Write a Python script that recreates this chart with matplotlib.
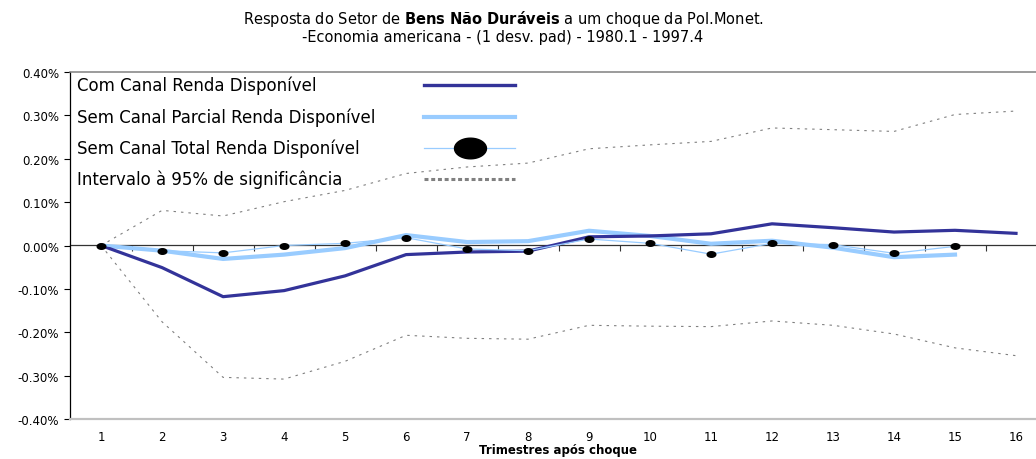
import numpy as np
import matplotlib
matplotlib.use('Agg')
import matplotlib.pyplot as plt
from matplotlib.path import Path
from matplotlib.lines import Line2D
from matplotlib.ticker import FuncFormatter, FixedLocator, NullFormatter

plt.rcParams['font.family'] = ['DejaVu Sans']

# %% Data (values in %)
trimestres = list(range(1, 17))
com_canal = [0.000, -0.051, -0.118, -0.104, -0.070, -0.021, -0.015, -0.013,
             0.020, 0.022, 0.027, 0.050, 0.041, 0.031, 0.035, 0.028]
sem_parcial = [0.000, -0.012, -0.031, -0.021, -0.006, 0.024, 0.008, 0.010,
               0.034, 0.022, 0.004, 0.011, -0.005, -0.027, -0.021]
sem_total = [0.000, -0.012, -0.017, 0.000, 0.005, 0.018, -0.008, -0.012,
             0.015, 0.005, -0.020, 0.005, 0.002, -0.018, -0.002]
limite_sup = [0.000, 0.081, 0.068, 0.101, 0.127, 0.166, 0.181, 0.190,
              0.223, 0.232, 0.240, 0.271, 0.267, 0.263, 0.302, 0.310]
limite_inf = [0.000, -0.176, -0.304, -0.308, -0.267, -0.207, -0.214, -0.216,
              -0.184, -0.186, -0.187, -0.174, -0.184, -0.204, -0.236, -0.254]

labels = ['Com Canal Renda Disponível',
          'Sem Canal Parcial Renda Disponível',
          'Sem Canal Total Renda Disponível',
          'Intervalo à 95% de significância']

DARK = '#333399'
LIGHT = '#99ccff'
GRAY = '#808080'

# stretched dot, like the original (wider than tall)
t = np.linspace(0, 2 * np.pi, 60)
ellipse = Path(np.column_stack([1.55 * np.cos(t), np.sin(t)]), closed=True)

# %% Figure
fig = plt.figure(figsize=(10.36, 4.60), dpi=100)
ax = fig.add_axes([70 / 1036, 40 / 460, 976.5 / 1036, 347 / 460])

ax.plot(trimestres, com_canal, color=DARK, lw=2.3, solid_joinstyle='round', zorder=4)
ax.plot(trimestres[:15], sem_parcial, color=LIGHT, lw=3.0, zorder=3)
ax.plot(trimestres[:15], sem_total, color=LIGHT, lw=0.9, marker=ellipse,
        markersize=6.2, markerfacecolor='black', markeredgecolor='black', zorder=5)
for lim in (limite_sup, limite_inf):
    ax.plot(trimestres, lim, color=GRAY, lw=0.8, dashes=(2.2, 4.5), zorder=2)

ax.set_xlim(0.49, 16.5)
ax.set_ylim(-0.40, 0.40)

ax.set_yticks(np.arange(-0.4, 0.41, 0.1))
ax.yaxis.set_major_formatter(FuncFormatter(lambda v, p: '{:.2f}%'.format(round(v, 4) + 0.0)))
ax.tick_params(axis='y', direction='out', length=4, width=0.8, pad=4,
               labelsize=8.5, colors='black')

ax.set_xticks(trimestres)
ax.tick_params(axis='x', length=0, pad=8, labelsize=8.5)
ax.set_xlabel('Trimestres após choque', fontsize=8.5, fontweight='bold', labelpad=0)

ax.spines['left'].set_color('black')
ax.spines['left'].set_linewidth(0.9)
ax.spines['top'].set_color(GRAY)
ax.spines['top'].set_linewidth(1.1)
ax.spines['bottom'].set_color('#c0c0c0')
ax.spines['bottom'].set_linewidth(1.6)
ax.spines['right'].set_visible(False)

# zero line with category separators
zero = ax.secondary_xaxis(0.5)
zero.xaxis.set_major_locator(FixedLocator(np.arange(1.5, 16, 1.0)))
zero.xaxis.set_major_formatter(NullFormatter())
zero.tick_params(direction='in', length=4, width=0.8, colors='#333333')
for s in zero.spines.values():
    s.set_color('#333333')
    s.set_linewidth(0.9)

# legend drawn by hand: text left, keys in a column on the right
rows = [0.9625, 0.871, 0.781, 0.6916]
kx = [(424 - 70) / 976.5, (515 - 70) / 976.5]
for y, lab in zip(rows, labels):
    ax.text(0.0072, y, lab, transform=ax.transAxes, fontsize=12,
            va='center', ha='left', zorder=6)
keys = [
    Line2D(kx, [rows[0]] * 2, color=DARK, lw=2.4),
    Line2D(kx, [rows[1]] * 2, color=LIGHT, lw=3.0),
    Line2D(kx, [rows[2]] * 2, color=LIGHT, lw=0.9),
    Line2D(kx, [rows[3]] * 2, color=GRAY, lw=2.2, dashes=(1.3, 0.9)),
]
for k in keys:
    k.set_transform(ax.transAxes)
    k.set_clip_on(False)
    ax.add_line(k)
ax.add_line(Line2D([sum(kx) / 2], [rows[2]], marker=ellipse, markersize=23,
                   markerfacecolor='black', markeredgecolor='black',
                   transform=ax.transAxes, clip_on=False))

fig.text(503 / 1036, 1 - 9 / 460,
         'Resposta do Setor de $\\mathbf{Bens\\ Não\\ Duráveis}$ a um choque da Pol.Monet.\n'
         '-Economia americana - (1 desv. pad) - 1980.1 - 1997.4',
         ha='center', va='top', ma='center', fontsize=10.5, linespacing=1.05)

fig.savefig('out.png', dpi=100)
